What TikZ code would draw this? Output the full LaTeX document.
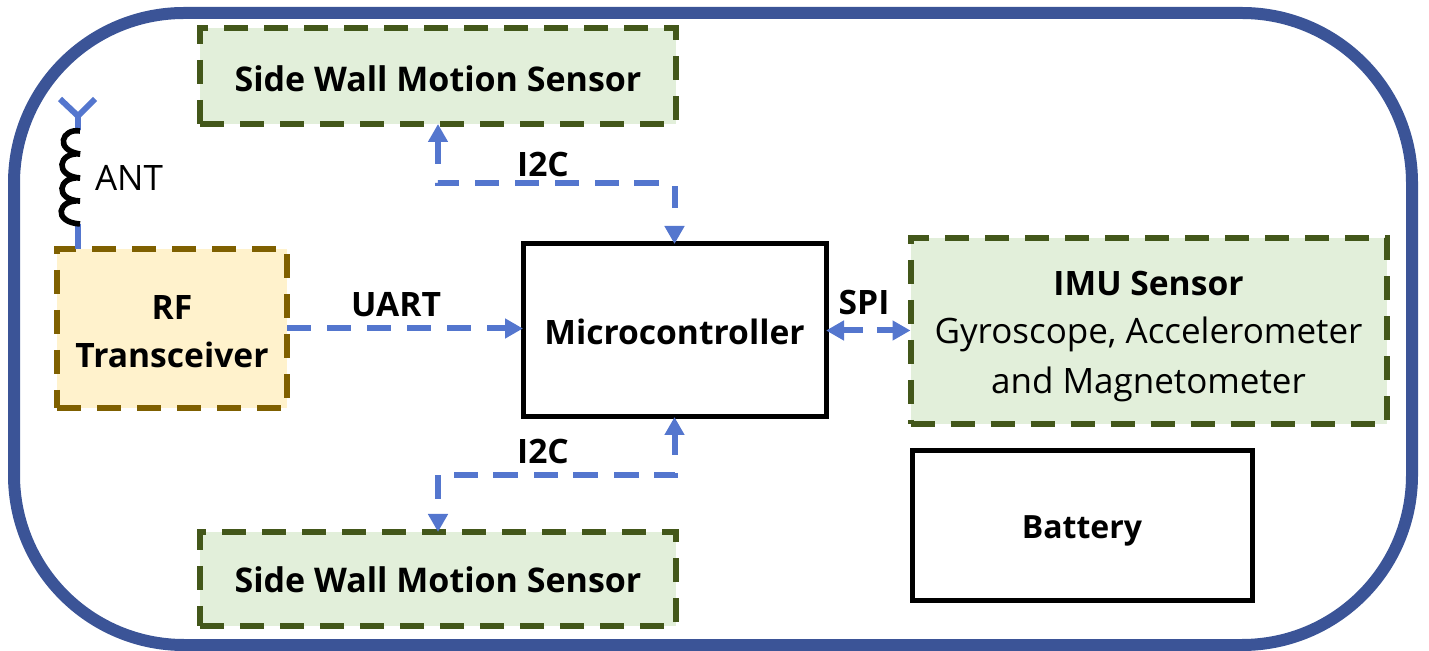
\documentclass[tikz,border=0pt]{standalone}
\usepackage{fontspec}
\setmainfont{Open Sans}
\usetikzlibrary{arrows.meta}
\definecolor{framec}{HTML}{3B5497}
\definecolor{linkc}{HTML}{5476CE}
\definecolor{greenb}{HTML}{43571A}
\definecolor{greenf}{HTML}{E2EFDA}
\definecolor{goldb}{HTML}{7F6000}
\definecolor{goldf}{HTML}{FFF2CC}
\newcommand{\lowered}[2]{\raisebox{-#1}[\height][\depth]{#2}}
\tikzset{
  x=0.5pt,y=-0.5pt,
  every node/.style={font=\fontsize{16.8}{24}\selectfont\bfseries,inner sep=0pt,outer sep=0pt},
  dashbox/.style={rectangle,minimum width=#1,dash pattern=on 12pt off 8pt,line width=3pt},
  greenbox/.style={dashbox=238pt,draw=greenb,fill=greenf,align=center},
  goldbox/.style={dashbox=115pt,draw=goldb,fill=goldf,align=center},
  solidbox/.style={rectangle,draw=black,line width=2.5pt,fill=white,align=center},
  link/.style={draw=linkc,line width=3pt,dash pattern=on 12pt off 8pt,-{Triangle[length=9pt,width=9.5pt]}},
  linkboth/.style={link,{Triangle[length=9pt,width=9.5pt]}-{Triangle[length=9pt,width=9.5pt]}},
  ant/.style={draw=linkc,line width=3pt},
  lab/.style={anchor=center},
}
\begin{document}
\begin{tikzpicture}
\useasboundingbox (0,0) rectangle (1429,651);
\draw[framec,line width=6pt,rounded corners=85pt] (14,13) rectangle (1412,645);
\node[greenbox,minimum height=48pt,font=\fontsize{17}{24}\selectfont\bfseries] (tsens) at (438,76) {\lowered{1.5pt}{Side Wall Motion Sensor}};
\node[greenbox,minimum height=47pt,font=\fontsize{17}{24}\selectfont\bfseries] (bsens) at (438,579) {\lowered{0.5pt}{Side Wall Motion Sensor}};
\node[goldbox,minimum height=79.5pt] (rf) at (172,328.5) {\lowered{1.5pt}{RF}\\\lowered{1.5pt}{Transceiver}};
\node[solidbox,minimum width=151.5pt,minimum height=86.5pt] (mcu) at (674.5,330.5) {\lowered{0.5pt}{Microcontroller}};
\node[greenbox,minimum height=93pt] (imu) at (1148.5,331) {\lowered{2.5pt}{IMU Sensor}\\\lowered{2.5pt}{\fontsize{17.5}{24}\selectfont\mdseries Gyroscope, Accelerometer}\\\lowered{3.5pt}{\fontsize{17.5}{24}\selectfont\mdseries and Magnetometer}};
\node[solidbox,minimum width=170pt,minimum height=74.5pt,font=\fontsize{16}{24}\selectfont\bfseries] (bat) at (1082,525.5) {\lowered{2.5pt}{Battery}};
% links
\draw[linkboth,dash pattern=on 0pt off 9.5pt on 11pt off 9.5pt on 12.5pt off 7.5pt on 12pt off 8pt on 12pt off 8pt on 12pt off 8pt on 12pt off 8pt on 10.5pt off 9.5pt on 20pt off 20pt] (mcu.north) -- ++(0,-61) -| (tsens.south);
\draw[linkboth,dash pattern=on 10.5pt off 9pt on 11.5pt off 7.5pt on 12.5pt off 8pt on 12.5pt off 7.5pt on 12pt off 8pt on 12.5pt off 7.5pt on 12pt off 8pt on 12pt off 10pt] (mcu.south) -- ++(0,58) -| (bsens.north);
\draw[link] (rf.east) -- (rf.east -| mcu.west);
\draw[linkboth,dash pattern=on 10pt off 7pt on 10pt] (mcu.east) -- (mcu.east -| imu.west);
\node[lab] (l1) at (543,165) {I2C};
\node[lab] (l2) at (543,452) {I2C};
\node[lab] (l3) at (396,305) {UART};
\node[lab] (l4) at (864,303) {SPI};
% antenna
\coordinate (antbase) at (78,249);
\coordinate (coiltop) at (78,130);
\coordinate (coilbot) at (78,224);
\coordinate (antfork) at (78,116);
\coordinate (antl) at (60,99);
\coordinate (antr) at (95,99);
\draw[ant] (antbase) -- (coilbot);
\draw[ant] (coiltop) -- (antfork);
\draw[ant] (antl) -- (antfork) -- (antr);
\draw[black,line width=2.8pt] (80,131) .. controls (62,128) and (54,150) .. (80,154)
  .. controls (58,152) and (54,176) .. (80,178)
  .. controls (58,176) and (54,200) .. (80,201)
  .. controls (58,199) and (52,222) .. (80,224);
\node[font=\fontsize{17.5}{24}\selectfont] (antl2) at (129,178) {ANT};
\end{tikzpicture}
\end{document}
